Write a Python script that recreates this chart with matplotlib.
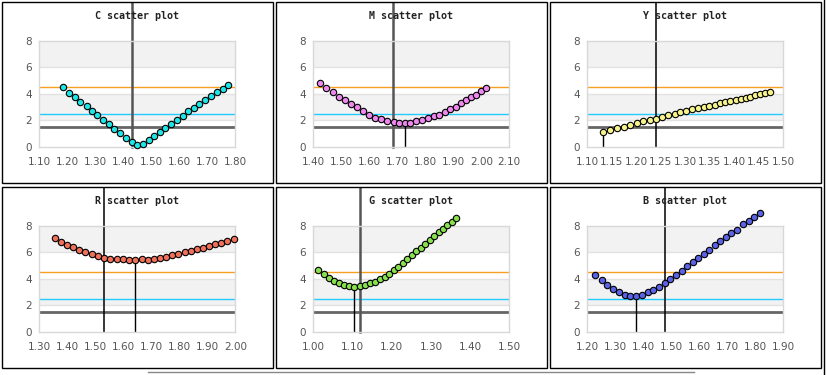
import matplotlib
matplotlib.use("Agg")
import matplotlib.pyplot as plt
from matplotlib.patches import Rectangle
from matplotlib.lines import Line2D
import numpy as np

# ---------------- data ----------------
names = ["C", "M", "Y", "R", "G", "B"]

c_x = [1.183, 1.207, 1.226, 1.245, 1.269, 1.288, 1.307, 1.329, 1.348, 1.368,
       1.388, 1.410, 1.431, 1.450, 1.469, 1.490, 1.510, 1.531, 1.550, 1.571,
       1.590, 1.612, 1.631, 1.652, 1.671, 1.693, 1.714, 1.733, 1.755, 1.775]
c_y = [4.49, 4.09, 3.73, 3.41, 3.06, 2.73, 2.38, 2.03, 1.70, 1.38,
       1.05, 0.70, 0.38, 0.13, 0.23, 0.50, 0.83, 1.13, 1.43, 1.73,
       2.06, 2.36, 2.68, 2.93, 3.23, 3.56, 3.83, 4.11, 4.39, 4.64]

m_x = [1.424, 1.447, 1.470, 1.492, 1.515, 1.536, 1.556, 1.579, 1.600, 1.621,
       1.643, 1.664, 1.687, 1.707, 1.727, 1.747, 1.768, 1.789, 1.810, 1.830,
       1.850, 1.869, 1.889, 1.908, 1.927, 1.945, 1.963, 1.981, 1.998, 2.017]
m_y = [4.81, 4.46, 4.11, 3.79, 3.54, 3.27, 2.99, 2.72, 2.44, 2.22,
       2.07, 1.92, 1.85, 1.80, 1.79, 1.82, 1.95, 2.02, 2.17, 2.32,
       2.44, 2.64, 2.84, 3.04, 3.29, 3.54, 3.74, 3.94, 4.21, 4.41]

y_x = [1.1325, 1.147, 1.161, 1.174, 1.188, 1.201, 1.214, 1.227, 1.240, 1.252,
       1.265, 1.278, 1.290, 1.302, 1.314, 1.326, 1.338, 1.349, 1.360, 1.371,
       1.382, 1.392, 1.403, 1.413, 1.423, 1.432, 1.443, 1.452, 1.462, 1.472]
y_y = [1.12, 1.27, 1.42, 1.52, 1.65, 1.80, 1.92, 2.04, 2.14, 2.27,
       2.39, 2.52, 2.62, 2.72, 2.84, 2.94, 3.04, 3.12, 3.19, 3.34,
       3.42, 3.49, 3.57, 3.64, 3.72, 3.79, 3.89, 3.99, 4.06, 4.14]

r_x = [1.355, 1.376, 1.398, 1.419, 1.442, 1.464, 1.487, 1.510, 1.531, 1.554,
       1.576, 1.599, 1.621, 1.643, 1.665, 1.687, 1.708, 1.731, 1.752, 1.774,
       1.796, 1.819, 1.842, 1.863, 1.886, 1.907, 1.929, 1.950, 1.971, 1.995]
r_y = [7.04, 6.79, 6.57, 6.39, 6.19, 6.04, 5.89, 5.74, 5.59, 5.51,
       5.51, 5.46, 5.41, 5.39, 5.49, 5.41, 5.51, 5.59, 5.64, 5.76,
       5.86, 5.99, 6.12, 6.24, 6.34, 6.47, 6.59, 6.67, 6.87, 6.97]

g_x = [1.013, 1.027, 1.040, 1.053, 1.066, 1.079, 1.091, 1.104, 1.118, 1.131,
       1.144, 1.157, 1.169, 1.182, 1.194, 1.206, 1.217, 1.229, 1.240, 1.252,
       1.263, 1.275, 1.286, 1.298, 1.309, 1.320, 1.331, 1.342, 1.353, 1.365]
g_y = [4.64, 4.34, 4.09, 3.83, 3.66, 3.53, 3.46, 3.38, 3.46, 3.53,
       3.66, 3.78, 3.98, 4.16, 4.39, 4.66, 4.91, 5.19, 5.46, 5.79,
       6.07, 6.34, 6.62, 6.89, 7.22, 7.49, 7.77, 8.02, 8.30, 8.57]

b_x = [1.228, 1.251, 1.272, 1.292, 1.314, 1.334, 1.354, 1.375, 1.394, 1.416,
       1.436, 1.457, 1.477, 1.497, 1.518, 1.538, 1.557, 1.577, 1.597, 1.616,
       1.636, 1.655, 1.674, 1.695, 1.715, 1.736, 1.756, 1.776, 1.797, 1.818]
b_y = [4.31, 3.88, 3.53, 3.21, 2.98, 2.78, 2.71, 2.70, 2.78, 3.01,
       3.18, 3.38, 3.66, 3.98, 4.26, 4.61, 4.94, 5.24, 5.56, 5.89,
       6.17, 6.57, 6.84, 7.12, 7.47, 7.67, 8.10, 8.37, 8.65, 8.97]

series_x = [c_x, m_x, y_x, r_x, g_x, b_x]
series_y = [c_y, m_y, y_y, r_y, g_y, b_y]
x_mins = [1.10, 1.40, 1.10, 1.30, 1.00, 1.20]
x_maxs = [1.80, 2.10, 1.50, 2.00, 1.50, 1.90]
x_steps = [0.10, 0.10, 0.05, 0.10, 0.10, 0.10]
y_ticks = [0, 2, 4, 6, 8]

# full-height reference line per panel
ref_x = [1.431, 1.686, 1.241, 1.531, 1.118, 1.477]
ref_gray = [True, True, False, False, True, False]

# horizontal threshold lines
h_levels = [4.5, 2.5, 1.5]

# ---------------- style ----------------
marker_colors = ["#1ee6e6", "#ee88ee", "#f6f28c", "#f0705a", "#88e04e", "#5a62e6"]
h_colors = ["#f5a020", "#22ccff", "#666666"]
h_widths = [1.0, 1.0, 2.0]

W, H = 828, 375
fig = plt.figure(figsize=(W / 100, H / 100), dpi=100)
fig.patch.set_facecolor("white")

panel_x0 = [2, 276, 550]
panel_w = 271
panel_y0 = [2, 187]
panel_h = 181
ax_dx = 37.3      # axes left offset inside panel
ax_w = 196.0
ax_top_off = 38.7
ax_h = 106.3


def fx(px):
    return px / W


def fy(py):
    return 1 - py / H


for i, name in enumerate(names):
    row, col = divmod(i, 3)
    px0 = panel_x0[col]
    py0 = panel_y0[row]
    # panel box
    fig.add_artist(Rectangle((fx(px0), fy(py0 + panel_h)), panel_w / W, panel_h / H,
                             transform=fig.transFigure, fill=False,
                             edgecolor="black", linewidth=1.0))
    fig.text(fx(px0 + panel_w / 2), fy(py0 + 14), f"{name} scatter plot",
             ha="center", va="center", family="DejaVu Sans Mono",
             fontweight="bold", fontsize=7.2, color="#222222")

    left = fx(px0 + ax_dx)
    bottom = fy(py0 + ax_top_off + ax_h)
    ax = fig.add_axes([left, bottom, ax_w / W, ax_h / H])
    ax.set_facecolor("white")
    # bands
    for lo in (2, 6):
        ax.axhspan(lo, lo + 2, color="#f2f2f2", zorder=0, lw=0)
    for g in (2, 4, 6):
        ax.axhline(g, color="#e2e2e2", lw=1.0, zorder=0.5)

    ax.set_xlim(x_mins[i], x_maxs[i])
    ax.set_ylim(0, 8)
    n = int(round((x_maxs[i] - x_mins[i]) / x_steps[i]))
    xt = [x_mins[i] + k * x_steps[i] for k in range(n + 1)]
    ax.set_xticks(xt)
    ax.set_xticklabels([f"{v:.2f}" for v in xt])
    ax.set_yticks(y_ticks)
    ax.tick_params(length=0, labelsize=7.5, labelcolor="#555555")
    ax.tick_params(axis="x", pad=7)
    ax.tick_params(axis="y", pad=5)
    for s in ax.spines.values():
        s.set_color("#d8d8d8")
        s.set_linewidth(1.0)

    for lv, lc, lw in zip(h_levels, h_colors, h_widths):
        ax.axhline(lv, color=lc, lw=lw, zorder=1)

    xs = np.array(series_x[i])
    ys = np.array(series_y[i])
    # full-height reference line
    top_frac = (ax_top_off + ax_h - 1) / ax_h
    if ref_gray[i]:
        ax.axvline(ref_x[i], ymin=0, ymax=top_frac, color="#555555", lw=1.8,
                   zorder=2, clip_on=False)
    else:
        ax.axvline(ref_x[i], ymin=0, ymax=top_frac, color="black", lw=1.1,
                   zorder=2, clip_on=False)
    # line from minimum point down to axis
    k = int(np.argmin(ys))
    ax.vlines(xs[k], 0, ys[k], color="black", lw=1.0, zorder=2)

    ax.plot(xs, ys, linestyle="none", marker="o", markersize=4.6,
            markerfacecolor=marker_colors[i], markeredgecolor="black",
            markeredgewidth=0.8, zorder=3, clip_on=False)

# partial neighbouring frames
fig.add_artist(Line2D([fx(824.5), fx(824.5)], [fy(0), fy(375)],
                      transform=fig.transFigure, color="black", lw=1.0))
fig.add_artist(Line2D([fx(148), fx(694)], [fy(372), fy(372)],
                      transform=fig.transFigure, color="#888888", lw=1.0))

fig.savefig("out.png", dpi=100, facecolor="white")
